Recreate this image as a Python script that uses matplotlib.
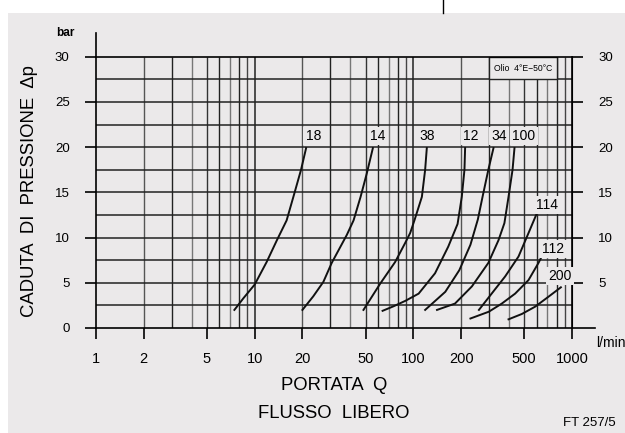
import matplotlib
matplotlib.use('Agg')
import matplotlib.pyplot as plt
from matplotlib.patches import Rectangle
from matplotlib.lines import Line2D

# ---------- data ----------
curve_18_q = [7.45, 8.5, 10.0, 11.9, 13.8, 15.9, 17.8, 19.6, 21.1]
curve_18_p = [2.0, 3.3, 4.8, 7.3, 9.7, 11.9, 14.9, 17.5, 19.9]

curve_14_q = [20.0, 23.4, 27.1, 30.6, 38.1, 42.0, 46.5, 50.9, 55.6]
curve_14_p = [2.0, 3.5, 5.1, 7.2, 10.3, 11.9, 14.5, 17.1, 19.9]

curve_38_q = [48.5, 61.8, 76.8, 88.8, 95.5, 101.6, 113.2, 118.7, 121.6]
curve_38_p = [2.0, 4.9, 7.3, 9.4, 10.5, 11.9, 14.5, 17.5, 19.9]

curve_12_q = [64, 75, 89, 108, 137, 166, 190, 202, 210, 212]
curve_12_p = [1.9, 2.4, 3.0, 3.8, 6.05, 9.0, 11.5, 14.5, 17.5, 19.9]

curve_34_q = [118.7, 159, 195, 229, 255, 273, 297, 320]
curve_34_p = [2.0, 4.0, 6.4, 9.2, 12.0, 14.5, 17.5, 19.9]

curve_100_q = [141, 183, 234, 297, 344, 375, 398, 422, 434]
curve_100_p = [2.0, 2.7, 4.6, 7.2, 9.7, 11.6, 14.5, 17.5, 19.9]

curve_114_q = [259, 290, 328, 379, 460, 532, 601]
curve_114_p = [2.0, 3.1, 4.3, 5.7, 7.9, 10.5, 12.7]

curve_112_q = [229, 299, 361, 438, 532, 615, 661]
curve_112_p = [1.05, 1.8, 2.7, 3.8, 5.3, 7.2, 8.3]

curve_200_q = [398, 483, 586, 711, 851]
curve_200_p = [0.96, 1.55, 2.36, 3.46, 4.5]

curve_names = ['18', '14', '38', '12', '34', '100', '114', '112', '200']
# label positions (Q, dp)
label_q = [23.4, 60, 121.6, 230.8, 347.6, 498, 695, 764, 843]
label_p = [21.2, 21.2, 21.2, 21.2, 21.2, 21.2, 13.6, 8.7, 5.75]

x_ticks = [1, 2, 5, 10, 20, 50, 100, 200, 500, 1000]
y_ticks_left = [0, 5, 10, 15, 20, 25, 30]
y_ticks_right = [5, 10, 15, 20, 25, 30]

# ---------- drawing ----------
BG = '#ebe9ea'
plt.rcParams['font.family'] = ['Liberation Sans', 'DejaVu Sans']

fig = plt.figure(figsize=(6.25, 4.33), dpi=100)
fig.patches.append(Rectangle((8/625, 0), 1, 1 - 13/433, transform=fig.transFigure,
                             facecolor=BG, edgecolor='none', zorder=-5))
fig.add_artist(Line2D([443/625, 443/625], [1 - 13/433, 1], color='k', lw=1))

ax = fig.add_axes([96/625, 1 - 328/433, 476/625, 271.3/433])
ax.set_facecolor(BG)
ax.set_xscale('log')
ax.set_xlim(1, 1000)
ax.set_ylim(0, 30)

# log paper grid
shade = {2: '#555555', 3: '#222222', 4: '#777777', 5: '#333333',
         6: '#222222', 7: '#777777', 8: '#222222', 9: '#444444'}
for dec in [1, 10, 100]:
    for m in range(2, 10):
        ax.vlines(m*dec, 0, 30, color=shade[m], lw=1.0, zorder=1)
ax.vlines([10, 100], 0, 30, color='#222222', lw=1.1, zorder=1)
for k in range(1, 12):
    ax.hlines(2.5*k, 1, 1000, color='#222222', lw=1.1, zorder=1)

for sp in ax.spines.values():
    sp.set_linewidth(1.2)
ax.spines['left'].set_bounds(0, 32.6)
ax.spines['bottom'].set_bounds(1, 1400)

# curves
all_q = [curve_18_q, curve_14_q, curve_38_q, curve_12_q, curve_34_q,
         curve_100_q, curve_114_q, curve_112_q, curve_200_q]
all_p = [curve_18_p, curve_14_p, curve_38_p, curve_12_p, curve_34_p,
         curve_100_p, curve_114_p, curve_112_p, curve_200_p]
for q, p in zip(all_q, all_p):
    ax.plot(q, p, color='#111111', lw=1.4, zorder=3)

for name, lq, lp in zip(curve_names, label_q, label_p):
    ax.text(lq, lp, name, fontsize=10, ha='center', va='center', zorder=4,
            bbox=dict(facecolor=BG, edgecolor='none', pad=1.5))

# oil note in its own cell of the grid (300..800 l/min, 27.5..30 bar)
ax.add_patch(Rectangle((300, 27.5), 500, 2.5, facecolor=BG, edgecolor='#222222',
                       lw=1.0, zorder=2))
ax.text(490, 28.65, 'Olio  4°E\u221250°C', fontsize=6.2, ha='center', va='center', zorder=4)

# ticks
ax.set_xticks(x_ticks, [str(t) for t in x_ticks])
ax.xaxis.set_minor_locator(matplotlib.ticker.NullLocator())
ax.set_yticks(y_ticks_left, [str(t) for t in y_ticks_left])
ax.tick_params(axis='x', direction='out', length=8, width=1.2, pad=9, labelsize=10.5)
ax.tick_params(axis='y', direction='out', length=8, width=1.2, pad=11, labelsize=9.5)

ax2 = ax.secondary_yaxis('right')
ax2.set_yticks(y_ticks_right, [str(t) for t in y_ticks_right])
ax2.tick_params(axis='y', direction='out', length=8, width=1.2, pad=11, labelsize=9.5)

# texts
fig.text(30/625, 1 - 191/433, 'CADUTA  DI  PRESSIONE  \u0394p', rotation=90,
         ha='center', va='center', fontsize=13.3)
fig.text(334/625, 1 - 385/433, 'PORTATA  Q', ha='center', va='center', fontsize=13.3)
fig.text(334/625, 1 - 413/433, 'FLUSSO  LIBERO', ha='center', va='center', fontsize=13.3)
fig.text(589/625, 1 - 423/433, 'FT 257/5', ha='center', va='center', fontsize=9.5)
fig.text(65/625, 1 - 33/433, 'bar', ha='center', va='center', fontsize=8.5, weight='bold')
fig.text(596/625, 1 - 343/433, 'l/min', ha='left', va='center', fontsize=10)

fig.savefig('out.png', dpi=100)
